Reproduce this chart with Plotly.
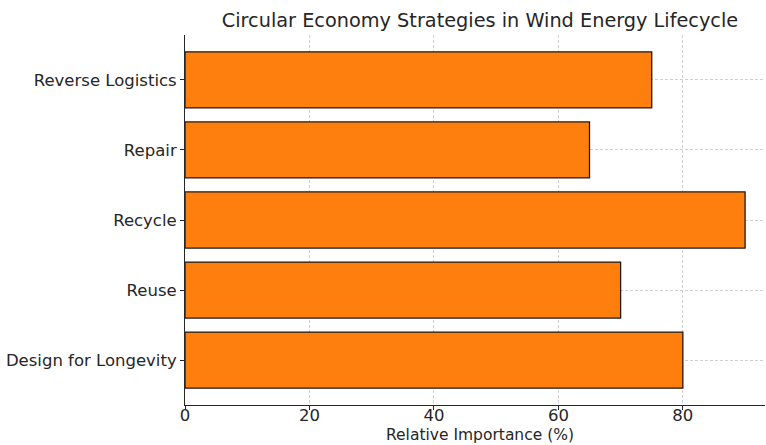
import plotly.graph_objects as go

# Strategy names (bottom to top) and their relative importance in percent
strategies = ["Design for Longevity", "Reuse", "Recycle", "Repair", "Reverse Logistics"]
importance = [80, 70, 90, 65, 75]
x_ticks = [0, 20, 40, 60, 80]

FONT = "DejaVu Sans"
TEXT = "#262626"
W, H = 766, 445
PLOT_TOP, PLOT_BOTTOM = 35, 405

fig = go.Figure()
fig.add_trace(go.Bar(
    x=importance,
    y=strategies,
    orientation="h",
    width=0.8,
    marker=dict(color="#ff7f0e", line=dict(color="#1a1a1a", width=1.3)),
    hoverinfo="x+y",
))

fig.update_layout(
    width=W,
    height=H,
    margin=dict(l=185, r=1, t=PLOT_TOP, b=H - PLOT_BOTTOM, autoexpand=False),
    paper_bgcolor="white",
    plot_bgcolor="white",
    showlegend=False,
    font=dict(family=FONT, color=TEXT, size=16.5),
    title=dict(
        text="Circular Economy Strategies in Wind Energy Lifecycle",
        x=480 / W, xanchor="center", xref="container",
        y=1 - 20 / H, yanchor="middle", yref="container",
        font=dict(family=FONT, size=19.3, color=TEXT),
    ),
    annotations=[dict(
        text="Relative Importance (%)",
        xref="paper", yref="paper",
        x=(480 - 185) / (W - 186), xanchor="center",
        y=-(445 - PLOT_BOTTOM) / (PLOT_BOTTOM - PLOT_TOP), yanchor="bottom",
        showarrow=False, borderpad=0,
        font=dict(family=FONT, size=15.5, color=TEXT),
    )],
)

fig.update_xaxes(
    range=[0, 93.2],
    tickvals=x_ticks,
    ticktext=[str(v) for v in x_ticks],
    ticks="outside", ticklen=4, tickwidth=1, tickcolor=TEXT,
    ticklabelstandoff=-9,
    showline=True, linecolor=TEXT, linewidth=1,
    showgrid=True, gridcolor="#cfcfcf", griddash="3px,2px", gridwidth=1,
    zeroline=False, automargin=False,
    tickfont=dict(family=FONT, size=16.5, color=TEXT),
)
fig.update_yaxes(
    range=[-0.64, 4.64],
    categoryorder="array", categoryarray=strategies,
    ticks="outside", ticklen=4, tickwidth=1, tickcolor=TEXT,
    showline=True, linecolor=TEXT, linewidth=1,
    showgrid=True, gridcolor="#cfcfcf", griddash="3px,2px", gridwidth=1,
    zeroline=False, automargin=False,
    tickfont=dict(family=FONT, size=16.5, color=TEXT),
)

fig.write_html("out.html")
